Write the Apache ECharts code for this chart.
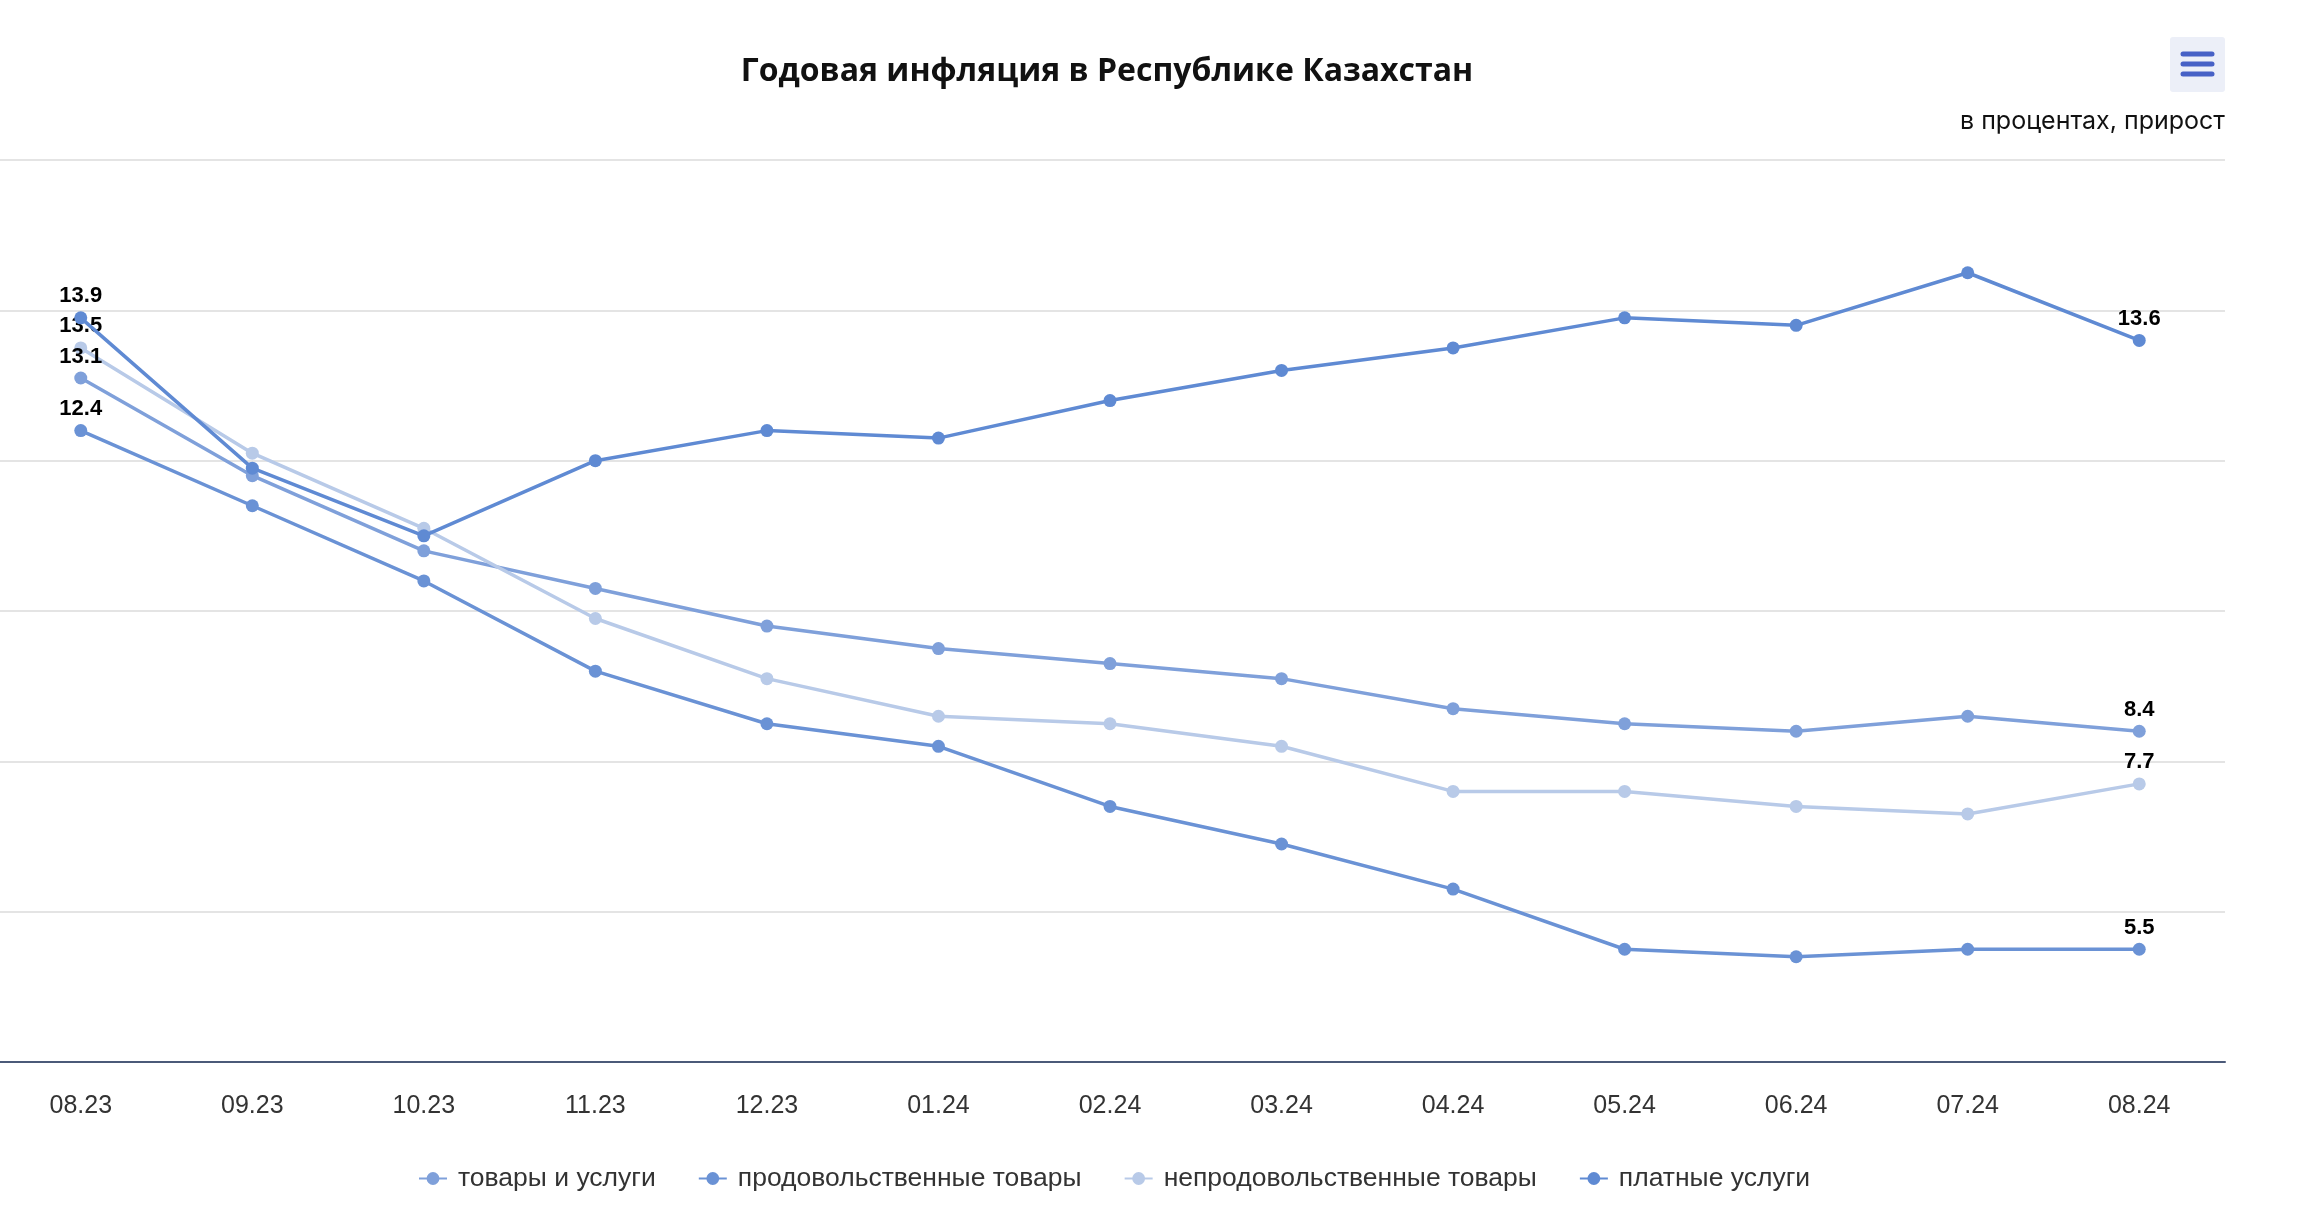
<!DOCTYPE html>
<html>
<head>
<meta charset="utf-8">
<script src="https://cdn.jsdelivr.net/npm/echarts@6/dist/echarts.min.js"></script>
<style>
html,body{margin:0;padding:0;background:#fff;}
#chart{width:2303px;height:1228px;}
</style>
</head>
<body>
<div id="chart"></div>
<script>
const titleText = 'Годовая инфляция в Республике Казахстан';
const subtitleText = 'в процентах, прирост';
const categories = ['08.23','09.23','10.23','11.23','12.23','01.24','02.24','03.24','04.24','05.24','06.24','07.24','08.24'];
const seriesNames = ['товары и услуги','продовольственные товары','непродовольственные товары','платные услуги'];
const totalValues    = [13.1, 11.8, 10.8, 10.3, 9.8, 9.5, 9.3, 9.1, 8.7, 8.5, 8.4, 8.6, 8.4];
const foodValues     = [12.4, 11.4, 10.4, 9.2, 8.5, 8.2, 7.4, 6.9, 6.3, 5.5, 5.4, 5.5, 5.5];
const nonfoodValues  = [13.5, 12.1, 11.1, 9.9, 9.1, 8.6, 8.5, 8.2, 7.6, 7.6, 7.4, 7.3, 7.7];
const servicesValues = [13.9, 11.9, 11.0, 12.0, 12.4, 12.3, 12.8, 13.2, 13.5, 13.9, 13.8, 14.5, 13.6];
const yMin = 4, yMax = 16, yStep = 2;

const colors = ['#7fa0da', '#6a92d5', '#b8cae8', '#5f8ad3'];
const allValues = [totalValues, foodValues, nonfoodValues, servicesValues];
const FONT = '"Liberation Sans", Arial, sans-serif';

function buildData(arr) {
  const last = arr.length - 1;
  return arr.map((v, i) => ({ value: v, label: { show: i === 0 || i === last } }));
}

const chart = echarts.init(document.getElementById('chart'), null, { renderer: 'canvas' });
const option = {
  backgroundColor: '#ffffff',
  animation: false,
  title: [
    {
      text: titleText,
      left: 1102,
      top: 51,
      textAlign: 'center',
      textStyle: { fontFamily: '"Open Sans", "Noto Sans", sans-serif', fontWeight: 'bold', fontSize: 32, color: '#111' }
    },
    {
      text: subtitleText,
      right: 73,
      top: 104,
      textStyle: { fontFamily: 'Inter, "Noto Sans", sans-serif', fontWeight: 'normal', fontSize: 25, color: '#111' }
    }
  ],
  graphic: [
    {
      type: 'group', right: 78, top: 37,
      children: [
        { type: 'rect', shape: { x: 0, y: 0, width: 55, height: 55, r: 3 }, style: { fill: '#eceff8' } },
        { type: 'line', shape: { x1: 13, y1: 17, x2: 42, y2: 17 }, style: { stroke: '#4761c6', lineWidth: 5, lineCap: 'round' } },
        { type: 'line', shape: { x1: 13, y1: 27, x2: 42, y2: 27 }, style: { stroke: '#4761c6', lineWidth: 5, lineCap: 'round' } },
        { type: 'line', shape: { x1: 13, y1: 37, x2: 42, y2: 37 }, style: { stroke: '#4761c6', lineWidth: 5, lineCap: 'round' } }
      ]
    }
  ],
  legend: {
    data: seriesNames,
    left: 413,
    top: 1160,
    itemGap: 42,
    itemWidth: 28,
    itemHeight: 16,
    textStyle: { fontFamily: FONT, fontSize: 26.5, color: '#333', padding: [0, 0, 0, 6] }
  },
  grid: { left: -5, right: 78, top: 160, bottom: 166, containLabel: false, outerBoundsMode: 'none' },
  xAxis: {
    type: 'category',
    data: categories,
    boundaryGap: true,
    axisLine: { lineStyle: { color: '#4b5a79', width: 2 } },
    axisTick: { show: false },
    axisLabel: { margin: 32, fontFamily: FONT, fontSize: 25, color: '#333' },
    splitLine: { show: false }
  },
  yAxis: {
    type: 'value',
    min: yMin, max: yMax, interval: yStep,
    axisLabel: { show: false },
    axisLine: { show: false },
    axisTick: { show: false },
    splitLine: { lineStyle: { color: '#e4e4e4', width: 2 } }
  },
  series: seriesNames.map((name, k) => ({
    name: name,
    type: 'line',
    data: buildData(allValues[k]),
    color: colors[k],
    symbol: 'circle',
    symbolSize: 13,
    lineStyle: { width: 3.5, color: colors[k] },
    itemStyle: { color: colors[k] },
    z: k === 3 ? 5 : 3,
    label: {
      position: 'top',
      distance: 4,
      fontFamily: FONT,
      fontWeight: 'bold',
      fontSize: 22,
      color: '#000'
    }
  }))
};
chart.setOption(option);
</script>
</body>
</html>
